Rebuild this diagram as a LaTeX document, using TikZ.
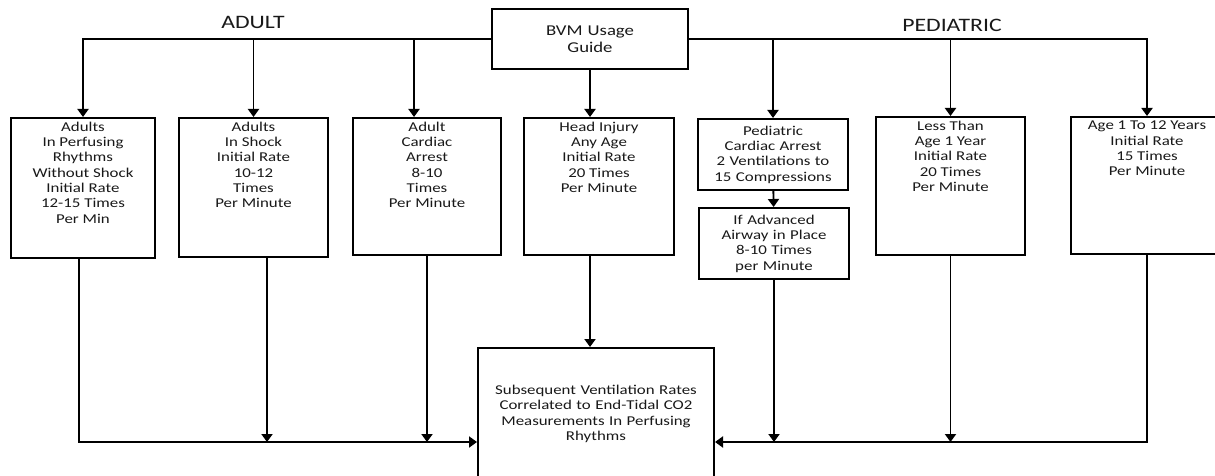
\documentclass[tikz,border=0pt]{standalone}
\usepackage{fontspec}
\setmainfont{Carlito}[FakeStretch=1.25]
\usetikzlibrary{arrows.meta}
\newcommand{\boxfont}{\fontsize{13.5}{15.3}\selectfont}
\newcommand{\topbox}[3]{\begin{minipage}[t][#2][t]{#1}\centering\boxfont\vspace*{4pt}#3\end{minipage}}
\tikzset{
  >={Triangle[length=8pt,width=11pt]},
  box/.style={draw=black, line width=2pt, inner sep=0pt, anchor=north west, text=black!90},
  cbox/.style={box, align=center, font=\boxfont},
  flow/.style={->, line width=1.9pt, draw=black},
  side/.style={font=\fontsize{19}{21}\selectfont, text=black!90},
}
\begin{document}
\begin{tikzpicture}[x=1pt, y=-1pt]
\clip (0,0) rectangle (1215,476);
\fill[white] (0,0) rectangle (1215,476);
% guide and the two sides
\node[cbox, font=\fontsize{15}{16.7}\selectfont, anchor=center, text width=196pt, minimum width=196pt, minimum height=60pt] (bvm) at (590,39) {BVM Usage\\Guide};
\node[side] (adult) at (253,22) {ADULT};
\node[side] (pediatric) at (952,25) {PEDIATRIC};
% adult boxes
\node[box] (adult1) at (10,117) {\topbox{144pt}{140pt}{Adults\\In Perfusing\\Rhythms\\Without Shock\\Initial Rate\\12-15 Times\\Per Min}};
\node[box] (adult2) at (178,117) {\topbox{149pt}{139pt}{Adults\\In Shock\\Initial Rate\\10-12\\Times\\Per Minute}};
\node[box] (adult3) at (352,117) {\topbox{148pt}{137pt}{Adult\\Cardiac\\Arrest\\8-10\\Times\\Per Minute}};
\node[box] (head) at (523,117) {\topbox{150pt}{137pt}{Head Injury\\Any Age\\Initial Rate\\20 Times\\Per Minute}};
% pediatric boxes
\node[cbox, text width=150pt, minimum width=150pt, minimum height=71pt] (pedca) at (697,118) {Pediatric\\Cardiac Arrest\\2 Ventilations to\\15 Compressions};
\node[cbox, text width=150pt, minimum width=150pt, minimum height=71pt] (airway) at (698,207) {If Advanced\\Airway in Place\\8-10 Times\\per Minute};
\node[box] (infant) at (875,116) {\topbox{149pt}{138pt}{Less Than\\Age 1 Year\\Initial Rate\\20 Times\\Per Minute}};
\node[box] (child) at (1070,116) {\topbox{152pt}{137pt}{Age 1 To 12 Years\\Initial Rate\\15 Times\\Per Minute}};
% common end
\node[cbox, text width=236pt, minimum width=236pt, minimum height=132pt] (final) at (477,347) {Subsequent Ventilation Rates\\Correlated to End-Tidal CO2\\Measurements In Perfusing\\Rhythms};

\coordinate (lowbus) at (0,442);
\coordinate (a3in) at ([xshift=-13pt]adult3.north);
\coordinate (a1out) at ([xshift=-4pt]adult1.south);
\coordinate (a2out) at ([xshift=13.5pt]adult2.south);

% from the guide
\draw[flow] (bvm.west) -| (adult1.north);
\draw[flow] (adult2.north |- bvm.west) -- (adult2.north);
\draw[flow] (a3in |- bvm.west) -- (a3in);
\draw[flow] (bvm.south) -- (bvm.south |- head.north);
\draw[flow] (bvm.east) -| (child.north);
\draw[flow] (pedca.north |- bvm.east) -- (pedca.north);
\draw[flow] (infant.north |- bvm.east) -- (infant.north);
\draw[flow] (pedca) -- (airway);
% into the common end
\draw[flow] (a1out) |- (final.west |- lowbus);
\draw[flow] (a2out) -- (a2out |- lowbus);
\draw[flow] (adult3.south) -- (adult3.south |- lowbus);
\draw[flow] (head.south -| bvm.south) -- (final.north -| bvm.south);
\draw[flow] (child.south) |- (final.east |- lowbus);
\draw[flow] (airway.south) -- (airway.south |- lowbus);
\draw[flow] (infant.south) -- (infant.south |- lowbus);
\end{tikzpicture}
\end{document}
